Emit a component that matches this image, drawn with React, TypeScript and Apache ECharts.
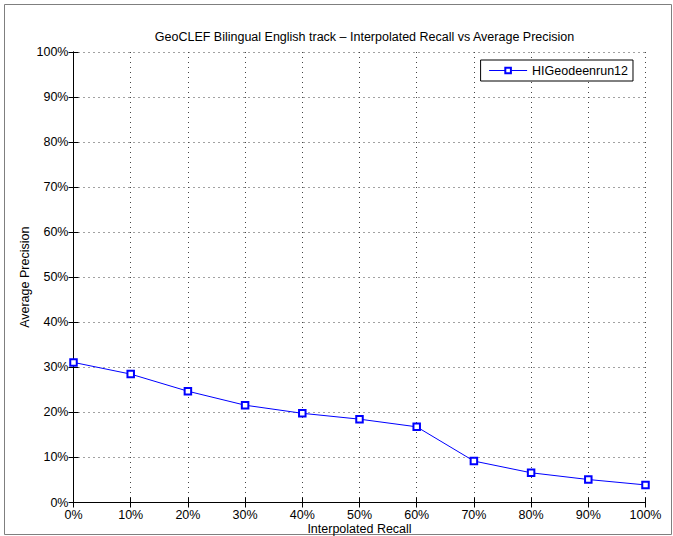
import React, { useEffect, useRef } from "react";
import * as echarts from "echarts";

const recall = [0, 10, 20, 30, 40, 50, 60, 70, 80, 90, 100];
const precision = [31.1, 28.5, 24.7, 21.6, 19.8, 18.5, 16.8, 9.2, 6.6, 5.1, 3.9];
const seriesName = "HIGeodeenrun12";
const titleText = "GeoCLEF Bilingual English track \u2013 Interpolated Recall vs Average Precision";
const xName = "Interpolated Recall";
const yName = "Average Precision";

const FONT = "'Liberation Sans', Arial, Helvetica, sans-serif";
const FS = 12.5;

export default function App() {
  const ref = useRef<HTMLDivElement>(null);
  useEffect(() => {
    if (!ref.current) return;
    const chart = echarts.init(ref.current, undefined, { renderer: "svg" });
    const common = {
      type: "value" as const,
      min: 0,
      max: 100,
      interval: 10,
      axisLine: { show: true, lineStyle: { color: "#000", width: 1 } },
      axisTick: { show: true, inside: true, length: 5, lineStyle: { color: "#000" } },
    };
    chart.setOption({
      animation: false,
      backgroundColor: "#fff",
      textStyle: { fontFamily: FONT },
      title: {
        text: titleText,
        left: 359.5,
        textAlign: "center",
        top: 25,
        textStyle: { fontSize: FS, fontWeight: "normal", color: "#000", fontFamily: FONT },
      },
      legend: {
        data: [seriesName],
        right: 40,
        top: 60,
        orient: "vertical",
        backgroundColor: "#fff",
        borderColor: "#000",
        borderWidth: 1,
        borderRadius: 0,
        padding: [4, 5, 4, 8],
        itemWidth: 38,
        itemHeight: 7,
        itemGap: 0,
        itemStyle: { borderWidth: 1 },
        lineStyle: { width: 1 },
        textStyle: { fontSize: FS, color: "#000", fontFamily: FONT },
      },
      grid: {
        left: 73.5,
        right: 27.5,
        top: 52,
        bottom: 33.5,
        containLabel: false,
        outerBoundsMode: "none",
      },
      xAxis: [
        {
          ...common,
          position: "bottom",
          name: xName,
          nameLocation: "middle",
          nameGap: 20,
          nameMoveOverlap: false,
          nameTextStyle: { fontSize: FS, color: "#000", fontFamily: FONT },
          axisLabel: { formatter: "{value}%", fontSize: FS, color: "#000", margin: 6, fontFamily: FONT },
          splitLine: { show: true, lineStyle: { color: "#444", type: [1, 4], width: 1 } },
        },
        {
          ...common,
          position: "top",
          axisLabel: { show: false },
          splitLine: { show: false },
        },
      ],
      yAxis: [
        {
          ...common,
          position: "left",
          name: yName,
          nameLocation: "middle",
          nameGap: 42,
          nameMoveOverlap: false,
          nameRotate: 90,
          nameTextStyle: { fontSize: FS, color: "#000", fontFamily: FONT },
          axisLabel: { formatter: "{value}%", fontSize: FS, color: "#000", margin: 5, fontFamily: FONT },
          splitLine: { show: true, lineStyle: { color: "#444", type: [1, 4], width: 1 } },
        },
        {
          ...common,
          position: "right",
          axisLabel: { show: false },
          splitLine: { show: false },
        },
      ],
      graphic: [
        {
          type: "rect",
          shape: { x: 4.5, y: 4.5, width: 667, height: 530 },
          style: { fill: "none", stroke: "#7f7f7f", lineWidth: 1 },
          silent: true,
        },
      ],
      series: [
        {
          name: seriesName,
          type: "line",
          data: recall.map((r, i) => [r, precision[i]]),
          symbol: "emptyRect",
          symbolSize: 6.5,
          color: "#0000ff",
          lineStyle: { color: "#0000ff", width: 1 },
          itemStyle: { color: "#0000ff", borderColor: "#0000ff", borderWidth: 1 },
          clip: false,
          z: 5,
        },
      ],
    });
    return () => chart.dispose();
  }, []);
  return (
    <div
      ref={ref}
      style={{ position: "fixed", left: 0, top: 0, width: 673, height: 536 }}
    />
  );
}
